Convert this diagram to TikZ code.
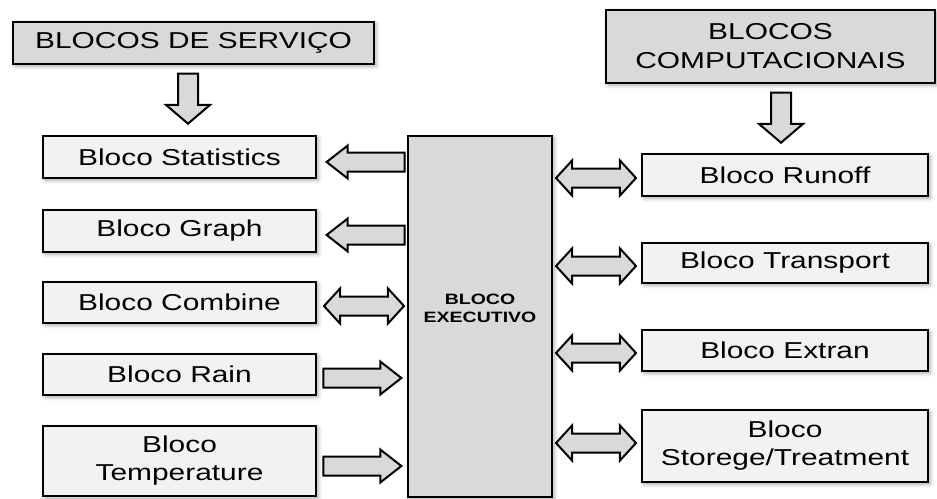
\documentclass[tikz,border=0pt]{standalone}
\usepackage{fontspec}
\setmainfont{Liberation Sans}[FakeStretch=1.3]
\usetikzlibrary{shapes.arrows}
\usetikzlibrary{shadows.blur}
\definecolor{BoxGray}{RGB}{217,217,217}
\definecolor{BoxLight}{RGB}{242,242,242}
\tikzstyle{BoxBase}=[draw=black,line width=2pt,align=center,inner sep=0pt,
blur shadow={shadow xshift=2pt,shadow yshift=-2pt,shadow blur radius=4pt,shadow opacity=35}]
\tikzstyle{HeadBox}=[BoxBase,fill=BoxGray,font=\fontsize{23}{29}\selectfont]
\tikzstyle{BlocoBox}=[BoxBase,fill=BoxLight,font=\fontsize{23}{28}\selectfont]
\tikzstyle{ArrowBase}=[draw=black,line width=2pt,fill=BoxGray,inner sep=0pt,minimum width=0pt]
\tikzstyle{OneWay}=[ArrowBase,single arrow,inner ysep=8.5pt,minimum height=78pt,
single arrow head extend=7pt,single arrow tip angle=76]
\tikzstyle{TwoWay}=[ArrowBase,double arrow,inner ysep=8.5pt,minimum height=80pt,
double arrow head extend=8pt,double arrow tip angle=95]
\tikzstyle{DownWay}=[ArrowBase,single arrow,inner xsep=9pt,inner ysep=9pt,minimum height=50pt,
single arrow head extend=12pt,single arrow tip angle=99,shape border rotate=270]

\begin{document}
\begin{tikzpicture}[x=1pt,y=-1pt]
        \useasboundingbox (0,0) rectangle (937,498);
        % cabecalhos
        \node[HeadBox,minimum width=361pt,minimum height=42pt](serv)at(193.5,43){BLOCOS DE SERVI\c{C}O};
        \node[HeadBox,minimum width=329pt,minimum height=73pt](comp)at(770.5,46.5){BLOCOS\\COMPUTACIONAIS};
        % bloco central
        \node[BoxBase,fill=BoxGray,minimum width=144pt,minimum height=361pt,
        label={[font=\bfseries\fontsize{15}{18}\selectfont,align=center,yshift=8pt]center:BLOCO\\EXECUTIVO}](exec)at(480,316.5){};
        % blocos de servico
        \node[BlocoBox,minimum width=273pt,minimum height=42pt](stat)at(179.5,157){Bloco Statistics};
        \node[BlocoBox,minimum width=273pt,minimum height=42pt](graph)at(179.5,231){Bloco Graph};
        \node[BlocoBox,minimum width=273pt,minimum height=41pt](comb)at(179.5,302.5){Bloco Combine};
        \node[BlocoBox,minimum width=273pt,minimum height=41pt](rain)at(179.5,374.5){Bloco Rain};
        \node[BlocoBox,minimum width=273pt,minimum height=70pt](temp)at(179.5,461){Bloco\\Temperature};
        % blocos computacionais
        \node[BlocoBox,minimum width=286pt,minimum height=42pt](runoff)at(785,175){Bloco Runoff};
        \node[BlocoBox,minimum width=286pt,minimum height=40pt](transp)at(785,263){Bloco Transport};
        \node[BlocoBox,minimum width=286pt,minimum height=41pt](extran)at(785,350.5){Bloco Extran};
        \node[BlocoBox,minimum width=286pt,minimum height=72pt](storege)at(785,446){Bloco\\Storege/Treatment};
        % setas
        \node[DownWay,anchor=tip](aServ)at(188,125){};
        \node[DownWay,anchor=tip](aComp)at(781,144){};
        \node[OneWay,shape border rotate=180,anchor=tip](aStat)at(325,162){};
        \node[OneWay,shape border rotate=180,anchor=tip](aGraph)at(325,235){};
        \node[TwoWay](aComb)at(364,306){};
        \node[OneWay,anchor=tip](aRain)at(403,378){};
        \node[OneWay,anchor=tip](aTemp)at(403,466){};
        \node[TwoWay](aRunoff)at(596,178){};
        \node[TwoWay](aTransp)at(596,266){};
        \node[TwoWay](aExtran)at(596,353){};
        \node[TwoWay](aStoreg)at(596,443){};
    \end{tikzpicture}
\end{document}
